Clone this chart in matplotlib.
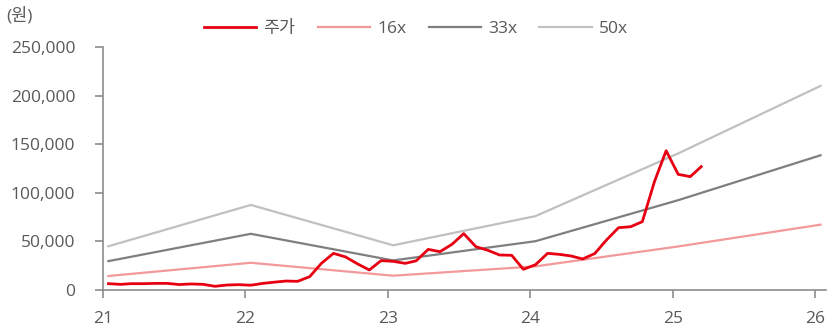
import matplotlib
matplotlib.use("Agg")
import matplotlib.pyplot as plt
import matplotlib.dates as mdates
from matplotlib.ticker import FuncFormatter
import pandas as pd

plt.rcParams['font.family'] = ['Open Sans', 'Noto Sans CJK KR', 'DejaVu Sans']

# monthly share price (won), Jan 2021 - Mar 2025
price = [6500, 5800, 6500, 6500, 6800, 6800, 5600, 6200, 5800, 3800,
         5100, 5500, 4900, 6800, 8000, 9200, 8900, 13700, 27400, 37700,
         34000, 27000, 20600, 30200, 29500, 27400, 30000, 41800, 39400, 47000,
         58000, 44600, 40800, 36000, 35700, 21300, 26000, 37700, 36700, 35000,
         31900, 37500, 51400, 64100, 65100, 70300, 111400, 143300, 119000, 116600,
         126900]
price_start = '2021-01'

# PER band values at the start of each year
band_years = ['2021', '2022', '2023', '2024', '2025', '2026']
band_16x = [14400, 28000, 14700, 24300, 44800, 67200]
band_33x = [29700, 57800, 30400, 50200, 92400, 138600]
band_50x = [45000, 87500, 46000, 76000, 140500, 210000]

price_dates = pd.date_range(price_start, periods=len(price), freq='MS') + pd.Timedelta(days=14)
band_dates = pd.to_datetime(band_years) + pd.Timedelta(days=14)

fig = plt.figure(figsize=(8.32, 3.31), dpi=100)
ax = fig.add_axes([0.1238, 0.1239, 0.869, 0.7341])

ax.plot(price_dates, price, color='#E60012', linewidth=2.0, label='주가', zorder=5)
ax.plot(band_dates, band_16x, color='#F4999A', linewidth=1.6, label='16x')
ax.plot(band_dates, band_33x, color='#7F7F7F', linewidth=1.6, label='33x')
ax.plot(band_dates, band_50x, color='#C0C0C0', linewidth=1.6, label='50x')

ax.set_ylim(0, 250000)
ax.set_yticks(range(0, 250001, 50000))
ax.yaxis.set_major_formatter(FuncFormatter(lambda v, p: f'{int(v):,}'))
ax.set_xlim(pd.Timestamp('2021-01-01'), pd.Timestamp('2026-01-29'))
ax.xaxis.set_major_locator(mdates.YearLocator())
ax.xaxis.set_major_formatter(mdates.DateFormatter('%y'))

for s in ['top', 'right']:
    ax.spines[s].set_visible(False)
for s in ['left', 'bottom']:
    ax.spines[s].set_color('#8C8C8C')
    ax.spines[s].set_linewidth(1.2)
ax.tick_params(axis='both', colors='#8C8C8C', labelcolor='#595959',
               labelsize=12.5, length=6, width=1.2)
ax.tick_params(axis='x', pad=9)
ax.tick_params(axis='y', pad=14)

fig.text(0.008, 0.952, '(원)', fontsize=12.5, color='#595959', va='center')

fig.legend(loc='center', bbox_to_anchor=(0.5, 0.912), ncol=4, frameon=False,
           fontsize=12.5, handlelength=3.0, handletextpad=0.4, columnspacing=1.3,
           labelcolor='#595959')

fig.savefig('out.png', dpi=100)
